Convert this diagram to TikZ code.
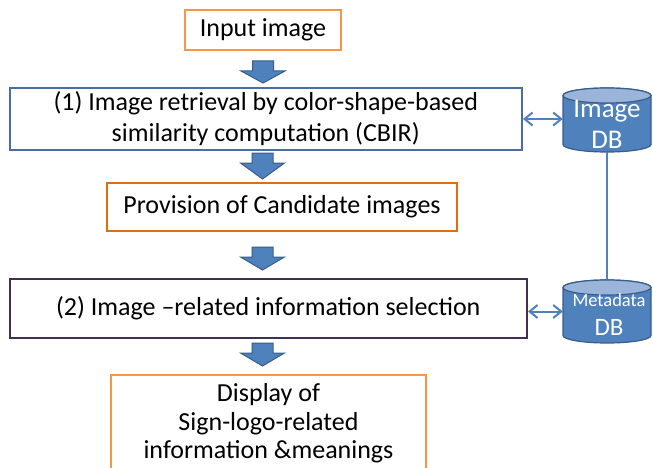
\documentclass[tikz,border=0pt]{standalone}
\usepackage{fontspec}
\setmainfont{Carlito}
\usetikzlibrary{arrows.meta}
\definecolor{borange}{HTML}{F79646}
\definecolor{dorange}{HTML}{E46C0A}
\definecolor{bblue}{HTML}{4F81BD}
\definecolor{dblue}{HTML}{385D8A}
\definecolor{lblue}{HTML}{9BB5DA}
\definecolor{boxblue}{HTML}{4A6DA6}
\definecolor{dpurple}{HTML}{403152}
\newcommand\barrow[4]{%
  \filldraw[barrowstyle] ({#1-10.5},{467-#2}) -- ({#1+10.5},{467-#2}) -- ({#1+10.5},{467-#3}) -- ({#1+22},{467-#3}) -- (#1,{467-#4}) -- ({#1-22},{467-#3}) -- ({#1-10.5},{467-#3}) -- cycle;}
\newcommand\dbcyl[3]{%
  \filldraw[fill=bblue, draw=dblue, line width=1.2pt] ({#1-44},{#2-7.5}) -- ({#1-44},{#3+7.5}) arc[start angle=180,end angle=360,x radius=44,y radius=7.5] -- ({#1+44},{#2-7.5}) arc[start angle=0,end angle=180,x radius=44,y radius=7.5] -- cycle;
  \filldraw[fill=lblue, draw=dblue, line width=1.2pt] (#1,{#2-7.5}) ellipse[x radius=44,y radius=7.5];}
\begin{document}
\begin{tikzpicture}[x=1pt,y=1pt,
  box/.style={draw, line width=2pt, fill=white, inner sep=0pt, align=center, text=black,
    font=\fontsize{26}{29}\selectfont},
  barrowstyle/.style={fill=bblue, draw=dblue, line width=1pt, line join=miter},
  dbshape/.style={inner sep=0pt, minimum width=88, minimum height=64},
  dbtext/.style={inner sep=0pt, text=white, anchor=base},
  dbl/.style={draw=bblue, line width=2pt, {Straight Barb[length=8pt,width=13pt]}-{Straight Barb[length=8pt,width=13pt]}},
  link/.style={draw=bblue, line width=2pt}]
\useasboundingbox (0,0) rectangle (653,467);
\fill[white] (0,0) rectangle (653,467);

% boxes
\node[box, draw=borange, minimum width=156, minimum height=40] (input) at (263,437) {Input image};
\node[box, draw=boxblue, minimum width=512.5, minimum height=62, font=\fontsize{26}{31}\selectfont] (cbir) at (265.75,348)
  {(1) Image retrieval by color-shape-based\\similarity computation (CBIR)};
\node[box, draw=dorange, minimum width=350, minimum height=48] (prov) at (282,260) {Provision of Candidate images};
\node[box, draw=dpurple, minimum width=517.5, minimum height=59] (sel) at (268.25,158.5)
  {(2) Image –related information selection};
\node[box, draw=borange, minimum width=315, minimum height=97, font=\fontsize{26}{28.5}\selectfont] (disp) at (268.5,43.5)
  {Display of\\Sign-logo-related\\information \&meanings};

% block arrows
\barrow{263}{61}{71}{83}
\barrow{262.5}{153}{163}{179}
\barrow{262.5}{247}{257}{270}
\barrow{262.5}{343}{353}{366}

% databases
\dbcyl{607}{379}{315}
\dbcyl{607}{187}{124}
\node[dbshape] (imgdb) at (607,347) {};
\node[dbshape] (metadb) at (607,155.5) {};
\node[dbtext, font=\fontsize{27}{27}\selectfont] (imgdbt1) at (607,349) {Image};
\node[dbtext, font=\fontsize{27}{27}\selectfont] (imgdbt2) at (607,319) {DB};
\node[dbtext, font=\fontsize{18.5}{18.5}\selectfont] (metadbt1) at (609,161) {Metadata};
\node[dbtext, font=\fontsize{25}{25}\selectfont] (metadbt2) at (609,132) {DB};

% connectors
\draw[dbl] (cbir.east) -- (cbir.east -| imgdb.west);
\draw[dbl] ([yshift=-3]sel.east) -- ([yshift=-3]sel.east -| metadb.west);
\draw[link] (imgdb.south) -- (metadb.north);
\end{tikzpicture}
\end{document}
